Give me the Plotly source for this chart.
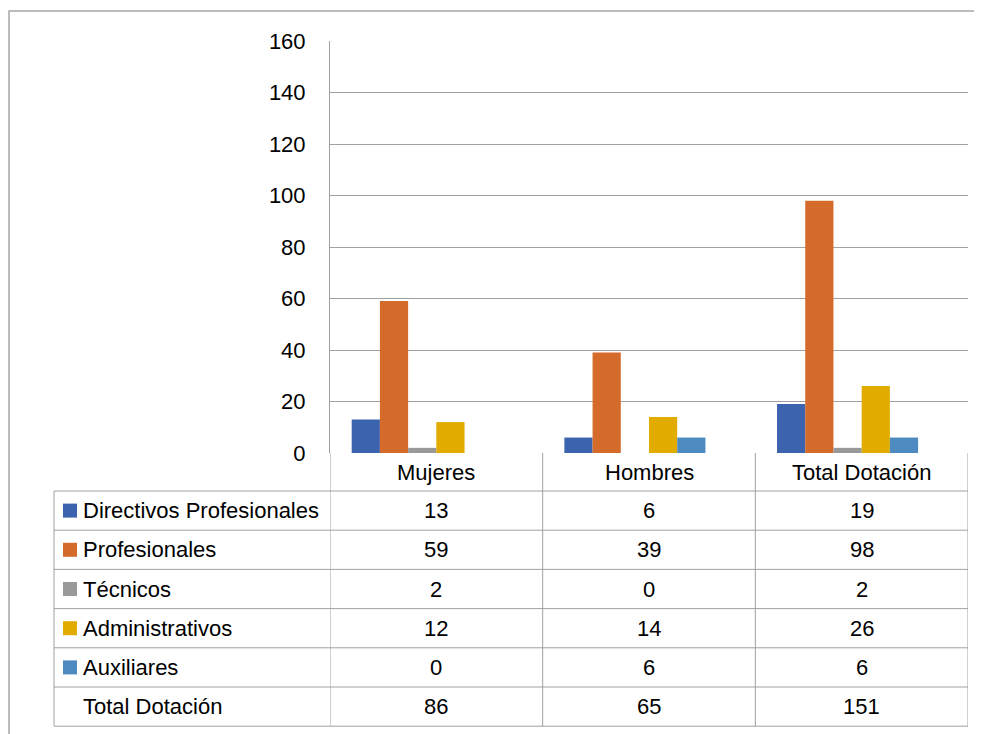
import plotly.graph_objects as go

categories = ["Mujeres", "Hombres", "Total Dotación"]
series_names = ["Directivos Profesionales", "Profesionales", "Técnicos", "Administrativos", "Auxiliares"]
directivos = [13, 6, 19]
profesionales = [59, 39, 98]
tecnicos = [2, 0, 2]
administrativos = [12, 14, 26]
auxiliares = [0, 6, 6]
total_label = "Total Dotación"
total_dotacion = [86, 65, 151]
y_ticks = [0, 20, 40, 60, 80, 100, 120, 140, 160]

colors = ["#3C64AE", "#D46B2B", "#999999", "#E2AB00", "#4D8AC0"]
series_values = [directivos, profesionales, tecnicos, administrativos, auxiliares]

OFF = 8  # page body margin
W, H = 982 - OFF, 734 - OFF
# target pixel positions in the screenshot
PL, PR, PT, PB = 330, 968, 41, 453
ML, MT = PL - OFF, PT - OFF
MR = W - (PR - OFF)
MB = H - (PB - OFF)
PW = PR - PL
PH = PB - PT

def px(x):
    return (x - PL) / PW

def py(y):
    return (PB - y) / PH

FONT = "Liberation Sans, Arial, sans-serif"
FS = 22
LINE = "#A0A0A0"

fig = go.Figure()
for name, vals, col in zip(series_names, series_values, colors):
    fig.add_trace(go.Bar(x=categories, y=vals, name=name, marker_color=col,
                         marker_line_width=0, showlegend=False))
fig.add_trace(go.Bar(x=categories, y=total_dotacion, name=total_label,
                     marker_color="rgba(0,0,0,0)", marker_line_width=0,
                     showlegend=False, hoverinfo="skip"))

shapes = []
annotations = []

# outer border
shapes.append(dict(type="rect", xref="paper", yref="paper",
                   x0=px(9), x1=px(1000), y0=py(11), y1=py(760),
                   line=dict(color="#A6A6A6", width=1.5), fillcolor="rgba(0,0,0,0)", layer="below"))

row_top = 491
row_h = 39.2
n_rows = 6
table_bottom = row_top + n_rows * row_h
left_x = 54

# horizontal row lines
for i in range(n_rows + 1):
    yy = row_top + i * row_h
    shapes.append(dict(type="line", xref="paper", yref="paper",
                       x0=px(left_x), x1=px(PR), y0=py(yy), y1=py(yy),
                       line=dict(color=LINE, width=1)))
# vertical lines of table
for xv in [-0.5, 0.5, 1.5, 2.5]:
    shapes.append(dict(type="line", xref="x", yref="paper",
                       x0=xv, x1=xv, y0=py(PB), y1=py(table_bottom),
                       line=dict(color=LINE, width=1)))
shapes.append(dict(type="line", xref="paper", yref="paper",
                   x0=px(left_x), x1=px(left_x), y0=py(row_top), y1=py(table_bottom),
                   line=dict(color=LINE, width=1)))

# header labels
for c in categories:
    annotations.append(dict(x=c, xref="x", y=py((PB + row_top) / 2), yref="paper",
                            text=c, showarrow=False, xanchor="center", yanchor="middle",
                            font=dict(family=FONT, size=FS, color="#000")))

row_names = series_names + [total_label]
row_vals = series_values + [total_dotacion]
row_cols = colors + [None]
for i, (nm, vals, col) in enumerate(zip(row_names, row_vals, row_cols)):
    yc = row_top + (i + 0.5) * row_h
    annotations.append(dict(x=px(81), xref="paper", y=py(yc), yref="paper",
                            text=nm, showarrow=False, xanchor="left", yanchor="middle",
                            font=dict(family=FONT, size=FS, color="#000")))
    if col:
        shapes.append(dict(type="rect", xref="paper", yref="paper",
                           x0=px(63), x1=px(77), y0=py(yc - 7), y1=py(yc + 7),
                           line=dict(width=0), fillcolor=col))
    for c, v in zip(categories, vals):
        annotations.append(dict(x=c, xref="x", y=py(yc), yref="paper",
                                text=str(v), showarrow=False, xanchor="center", yanchor="middle",
                                font=dict(family=FONT, size=FS, color="#000")))

fig.update_layout(
    width=W, height=H,
    margin=dict(l=ML, r=MR, t=MT, b=MB, pad=0),
    paper_bgcolor="white", plot_bgcolor="white",
    barmode="group", bargap=0.204, bargroupgap=0,
    shapes=shapes, annotations=annotations,
    font=dict(family=FONT, size=FS, color="#000"),
    xaxis=dict(type="category", range=[-0.5, 2.5], showticklabels=False,
               showgrid=False, zeroline=False, showline=False, fixedrange=True),
    yaxis=dict(range=[0, 160], tickvals=y_ticks, showgrid=True, gridcolor=LINE, gridwidth=1,
               zeroline=False, showline=True, linecolor=LINE, linewidth=1,
               ticks="", ticklabelstandoff=19,
               tickfont=dict(family=FONT, size=FS, color="#000")),
)

fig.write_html("out.html")
